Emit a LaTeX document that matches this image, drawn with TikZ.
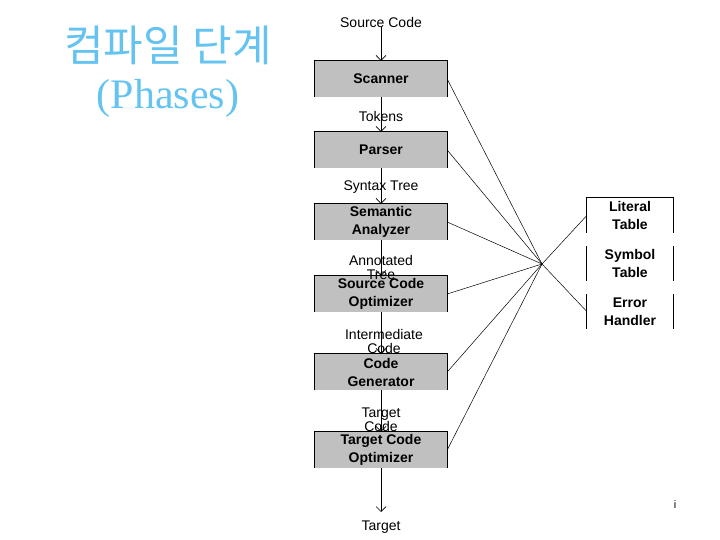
\documentclass[tikz,border=0pt]{standalone}
\usepackage{fontspec}
\setmainfont{Liberation Sans}
\newfontfamily\krfont{Noto Sans CJK KR}
\newfontfamily\titleserif{Liberation Serif}
\usetikzlibrary{arrows.meta}
\definecolor{boxgray}{RGB}{192,192,192}
\definecolor{titleblue}{RGB}{100,195,240}
\tikzset{
  phase/.style={fill=boxgray, minimum width=132pt, minimum height=36pt, inner sep=0pt,
    align=center, font=\fontsize{14}{18}\selectfont\bfseries},
  table/.style={minimum width=86pt, minimum height=35pt, inner sep=0pt,
    align=center, font=\fontsize{14}{18}\selectfont\bfseries},
  lbl/.style={inner sep=0pt, align=center, font=\fontsize{14}{14}\selectfont},
  flow/.style={-{Straight Barb[length=5pt,width=10pt]}, line width=0.6pt},
  link/.style={line width=0.5pt},
  edge/.style={line width=0.9pt}
}
\begin{document}
\begin{tikzpicture}[x=1pt,y=-1pt]
\useasboundingbox (0,0) rectangle (720,540);
% title
\node[text=titleblue, font=\krfont\fontsize{43}{46}\selectfont] (t1) at (168,45) {컴파일 단계};
\node[text=titleblue, font=\titleserif\fontsize{42}{44}\selectfont] (t2) at (168,98) {(Phases)};
% phases
\node[phase] (scanner) at (381,79) {Scanner};
\node[phase] (parser) at (381,150) {Parser};
\node[phase] (semantic) at (381,222) {Semantic\\Analyzer};
\node[phase] (sopt) at (381,294) {Source Code\\Optimizer};
\node[phase] (cgen) at (381,372) {Code\\Generator};
\node[phase] (topt) at (381,450) {Target Code\\Optimizer};
\foreach \b in {scanner,parser,semantic,sopt,cgen,topt}
  \draw[edge] (\b.south west) |- (\b.north east) -- (\b.south east);
% tables
\node[table] (literal) at (630,215.5) {Literal\\Table};
\node[table] (symbol) at (630,263.5) {Symbol\\Table};
\node[table] (error) at (630,311.5) {Error\\Handler};
\draw[edge] (literal.south west) |- (literal.north east) -- (literal.south east);
\draw[edge] (symbol.south west) -- (symbol.north west);
\draw[edge] (symbol.south east) -- (symbol.north east);
\draw[edge] (error.south west) -- (error.north west);
\draw[edge] (error.south east) -- (error.north east);
% labels
\node[lbl] (src) at (381,22) {Source Code};
\node[lbl] (tok) at (381,116) {Tokens};
\node[lbl] (syn) at (381,187) {Syntax Tree};
\node[lbl] (ann) at (381,267) {Annotated\\Tree};
\node[lbl] (inter) at (384,341) {Intermediate\\Code};
\node[lbl] (tcode) at (381,420) {Target\\Code};
\node[lbl] (target) at (381,527) {Target};
\coordinate (tend) at (381,512);
% flow arrows
\draw[flow] (src.south) -- (scanner.north);
\draw[flow] (scanner.south) -- (parser.north);
\draw[flow] (parser.south) -- (semantic.north);
\draw[flow] (semantic.south) -- (sopt.north);
\draw[flow] (sopt.south) -- (cgen.north);
\draw[flow] (cgen.south) -- (topt.north);
\draw[flow] (topt.south) -- (tend);
% links to tables
\coordinate (hub) at (542,264);
\foreach \b in {scanner,parser,semantic,sopt,cgen,topt}
  \draw[link] (\b.east) -- (hub);
\draw[link] (hub) -- (literal.west);
\draw[link] (hub) -- (error.west);
% stray mark
\node[lbl, font=\fontsize{11}{12}\selectfont] (imark) at (675,505) {i};
\end{tikzpicture}
\end{document}
